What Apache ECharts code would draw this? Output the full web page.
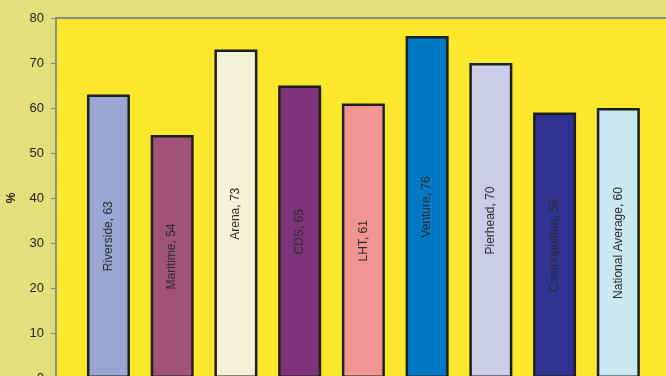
<!DOCTYPE html>
<html>
<head>
<meta charset="utf-8">
<script src="https://cdn.jsdelivr.net/npm/echarts@6/dist/echarts.min.js"></script>
<style>
  html, body { margin: 0; padding: 0; background: #E3E07B; }
  #chart { width: 666px; height: 376px; }
</style>
</head>
<body>
<div id="chart"></div>
<script>
// Companies and their percentages
const categories = ['Riverside', 'Maritime', 'Arena', 'CDS', 'LHT', 'Venture', 'Pierhead', 'Cosmopolitan', 'National Average'];
const values = [63, 54, 73, 65, 61, 76, 70, 59, 60];
const barColors = ['#9BA6D3', '#A05376', '#F4F2D6', '#7E3278', '#F19593', '#0078C4', '#C9CDE8', '#303392', '#C9E8F2'];
const yTicks = [0, 10, 20, 30, 40, 50, 60, 70, 80];

const chart = echarts.init(document.getElementById('chart'), null, { renderer: 'canvas' });

const barData = values.map((v, i) => ({
  value: [i, v],
  itemStyle: { color: barColors[i] }
}));

chart.setOption({
  backgroundColor: '#E3E07B',
  animation: false,
  grid: {
    left: 56,
    top: 18,
    width: 620,
    height: 360,
    outerBoundsMode: 'none',
    containLabel: false,
    show: true,
    backgroundColor: '#FBE82C',
    borderColor: '#8C8C8C',
    borderWidth: 2
  },
  xAxis: {
    type: 'value',
    min: -0.823,
    max: 8.905,
    show: false
  },
  yAxis: {
    type: 'value',
    min: yTicks[0],
    max: yTicks[yTicks.length - 1],
    interval: 10,
    name: '%',
    nameLocation: 'middle',
    nameGap: 38,
    nameRotate: 90,
    nameTextStyle: { color: '#222', fontSize: 12, fontWeight: 'bold', fontFamily: 'Liberation Sans, Arial, sans-serif' },
    axisLine: { show: true, onZero: false, lineStyle: { color: '#8C8C8C', width: 2 } },
    axisTick: { show: true, length: 5, lineStyle: { color: '#8C8C8C', width: 1 } },
    axisLabel: { color: '#222', fontSize: 13, margin: 12, fontFamily: 'Liberation Sans, Arial, sans-serif' },
    splitLine: { show: false }
  },
  series: [{
    type: 'bar',
    data: barData,
    barWidth: 43,
    itemStyle: { borderColor: '#1E1E1E', borderWidth: 2.5 },
    label: {
      show: true,
      position: 'inside',
      rotate: 90,
      color: '#2B2B2B',
      fontSize: 12,
      fontFamily: 'Liberation Sans, Arial, sans-serif',
      formatter: p => categories[p.dataIndex] + ', ' + p.value[1]
    }
  }]
});
</script>
</body>
</html>
